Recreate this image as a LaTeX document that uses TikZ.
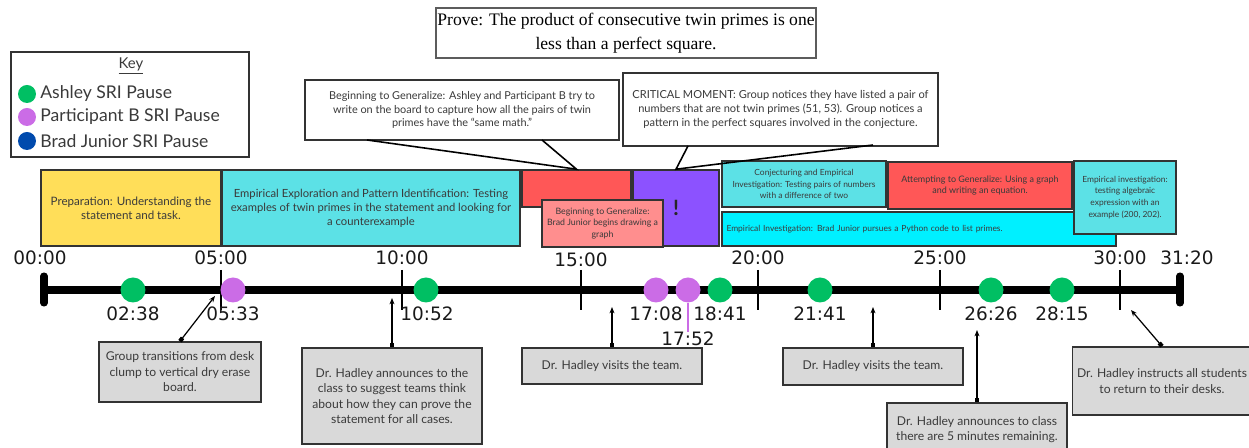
\documentclass[tikz,border=0pt]{standalone}
\usepackage{fontspec}
\setmainfont{Lato}
\newfontfamily\stampfont{DejaVu Sans}
\newfontfamily\provefont{Liberation Serif}
\usetikzlibrary{arrows.meta}
\definecolor{tlLine}{HTML}{333333}
\definecolor{tlText}{HTML}{3A3A3A}
\definecolor{pauseGreen}{HTML}{00BF63}
\definecolor{pausePurple}{HTML}{CB6CE6}
\definecolor{pauseBlue}{HTML}{004AAD}
\definecolor{phYellow}{HTML}{FFDE59}
\definecolor{phCyan}{HTML}{5CE1E6}
\definecolor{phRed}{HTML}{FF5757}
\definecolor{phPink}{HTML}{FF8E8E}
\definecolor{phViolet}{HTML}{8C52FF}
\definecolor{phAqua}{HTML}{00F0FF}
\definecolor{noteGray}{HTML}{D9D9D9}
\tikzset{
  timefig/.style={
    x=0.02cm, y=-0.02cm,
    every node/.append style={text=tlText},
  },
  phase/.style={
    draw=tlLine, line width=0.9pt, align=center, inner sep=1pt,
    font=\fontsize{6.4}{7.9}\selectfont,
  },
  smallphase/.style={phase, font=\fontsize{4.8}{6.7}\selectfont},
  callout/.style={draw=tlLine, line width=0.9pt, fill=white, align=center,
    inner sep=1pt, font=\fontsize{6.2}{7.6}\selectfont},
  calloutline/.style={draw=black, line width=0.9pt},
  note/.style={draw=tlLine, line width=0.9pt, fill=noteGray, align=center,
    inner sep=1pt, font=\fontsize{6.9}{8.8}\selectfont},
  notearrow/.style={draw=black, line width=0.7pt,
    {Square[length=2.4pt,width=2.4pt]}-{Stealth[length=3.6pt,width=2.8pt]}},
  pause/.style={circle, inner sep=0pt, minimum size=0.5cm},
  keydot/.style={circle, inner sep=0pt, minimum size=0.36cm},
  keytext/.style={anchor=west, inner sep=0pt, font=\fontsize{10}{12}\selectfont},
  stamp/.style={inner sep=0pt, text=black!90, font=\stampfont\fontsize{10.5}{12}\selectfont},
  majortick/.style={draw=black, line width=0.8pt},
}

\begin{document}
\begin{tikzpicture}[timefig]
  \useasboundingbox (0,0) rectangle (1249,448);
  % key and task
  \node[draw=tlLine, line width=1.2pt, minimum width=4.76cm, minimum height=2.1cm] (keybox) at (130,104.5) {};
  \node[inner sep=0pt, font=\fontsize{8.5}{10}\selectfont] (keytitle) at (131,66) {\underline{Key}};
  \node[keydot, fill=pauseGreen] (keyA) at (27,94) {};
  \node[keydot, fill=pausePurple] (keyB) at (27,117) {};
  \node[keydot, fill=pauseBlue] (keyC) at (27,141) {};
  \node[keytext] (keyAtext) at (40,94) {Ashley SRI Pause};
  \node[keytext] (keyBtext) at (40,117) {Participant B SRI Pause};
  \node[keytext] (keyCtext) at (40,141) {Brad Junior SRI Pause};
  \node[draw=tlLine!80, line width=1pt, minimum width=7.6cm, minimum height=1cm, align=center,
    inner sep=0pt, text=black, font=\provefont\fontsize{10}{13.5}\selectfont] (prove) at (626,33)
    {Prove: The product of consecutive twin primes is one\\less than a perfect square.};

  % phases above the timeline
  \node[phase, fill=phYellow, minimum width=3.6cm, minimum height=1.52cm,
    font=\fontsize{6.6}{8}\selectfont] (prep) at (131,208)
    {Preparation: Understanding the\\statement and task.};
  \node[phase, fill=phCyan, minimum width=5.96cm, minimum height=1.52cm] (explore) at (371,208)
    {Empirical Exploration and Pattern Identification: Testing\\examples of twin primes in the statement and looking for\\a counterexample};
  \node[phase, fill=phRed, minimum width=2.18cm, minimum height=0.74cm] (genred) at (576.5,188.5) {};
  \node[phase, fill=phViolet, minimum width=1.72cm, minimum height=1.52cm,
    font=\fontsize{12}{14}\selectfont\bfseries, text=black!85] (critical) at (676,208) {!};
  \node[phase, fill=phPink, minimum width=2.42cm, minimum height=0.94cm,
    font=\fontsize{5}{6.6}\selectfont] (bradgraph) at (602.5,223.5)
    {Beginning to Generalize:\\Brad Junior begins drawing a\\graph};
  \node[smallphase, fill=phCyan, minimum width=3.28cm, minimum height=0.92cm] (conject) at (804,184)
    {Conjecturing and Empirical\\Investigation: Testing pairs of numbers\\with a difference of two};
  \node[smallphase, fill=phRed, minimum width=3.68cm, minimum height=0.94cm,
    font=\fontsize{5.1}{6.7}\selectfont] (attempt) at (980,185.5)
    {Attempting to Generalize: Using a graph\\and writing an equation.};
  \node[smallphase, fill=phAqua, minimum width=7.88cm, minimum height=0.68cm,
    text width=7.7cm, align=left, inner xsep=0.09cm] (python) at (919,229)
    {Empirical Investigation: Brad Junior pursues a Python code to list primes.};
  \node[smallphase, fill=phCyan, minimum width=2.04cm, minimum height=1.46cm] (algebra) at (1125,197.5)
    {Empirical investigation:\\testing algebraic\\expression with an\\example (200, 202).};

  % callouts
  \node[callout, minimum width=6.28cm, minimum height=1.2cm] (gencall) at (462,110)
    {Beginning to Generalize: Ashley and Participant B try to\\write on the board to capture how all the pairs of twin\\primes have the ``same math.''};
  \node[callout, minimum width=6.3cm, minimum height=1.46cm, font=\fontsize{6.3}{8.2}\selectfont] (critcall) at (780.5,109.5)
    {CRITICAL MOMENT: Group notices they have listed a pair of\\numbers that are not twin primes (51, 53). Group notices a\\pattern in the perfect squares involved in the conjecture.};
  \coordinate (gencallA) at (367,140);
  \coordinate (gencallB) at (542,140);
  \coordinate (critcallA) at (688,146);
  \coordinate (critcallB) at (873,145);
  \draw[calloutline] (gencallA) -- (genred.north) -- (gencallB);
  \draw[calloutline] (critcallA) -- (critical.north) -- (critcallB);

  % timeline
  \coordinate (tStart) at (44,290);
  \coordinate (tEnd) at (1180,290);
  \draw[line width=5.1pt] (tStart) -- (tEnd);
  \draw[line width=4pt, line cap=round] (44,276) -- (44,303);
  \draw[line width=4pt, line cap=round] (1180,276) -- (1180,303);
  \draw[majortick] (221,270) -- (221,310);
  \draw[majortick] (402,270) -- (402,310);
  \draw[majortick] (581,270) -- (581,310);
  \draw[majortick] (758,270) -- (758,310);
  \draw[majortick] (940,270) -- (940,310);
  \draw[majortick] (1120,270) -- (1120,310);
  \node[stamp] (m00) at (40,258) {00:00};
  \node[stamp] (m05) at (221,258) {05:00};
  \node[stamp] (m10) at (402,258) {10:00};
  \node[stamp] (m15) at (581,260) {15:00};
  \node[stamp] (m20) at (758,258) {20:00};
  \node[stamp] (m25) at (940,258) {25:00};
  \node[stamp] (m30) at (1120,258) {30:00};
  \node[stamp] (m31) at (1187,258) {31:20};

  % SRI pauses
  \node[pause, fill=pauseGreen] (p0238) at (133,290) {};
  \node[pause, fill=pausePurple] (p0533) at (233,290) {};
  \node[pause, fill=pauseGreen] (p1052) at (426,290) {};
  \node[pause, fill=pausePurple] (p1708) at (656,290) {};
  \node[pause, fill=pausePurple] (p1752) at (688,290) {};
  \node[pause, fill=pauseGreen] (p1841) at (720,290) {};
  \node[pause, fill=pauseGreen] (p2141) at (820,290) {};
  \node[pause, fill=pauseGreen] (p2626) at (991,290) {};
  \node[pause, fill=pauseGreen] (p2815) at (1062,290) {};
  \node[stamp] (l0238) at (133,314) {02:38};
  \node[stamp] (l0533) at (233,314) {05:33};
  \node[stamp] (l1052) at (427,314) {10:52};
  \node[stamp] (l1708) at (656,314) {17:08};
  \node[stamp] (l1752) at (688,339) {17:52};
  \node[stamp] (l1841) at (720,314) {18:41};
  \node[stamp] (l2141) at (820,314) {21:41};
  \node[stamp] (l2626) at (991,314) {26:26};
  \node[stamp] (l2815) at (1062,314) {28:15};
  \draw[pausePurple, line width=0.8pt] (p1752.south) -- (l1752.north);

  % teacher events below the timeline
  \node[note, minimum width=3.24cm, minimum height=1.2cm] (deskmove) at (180,372)
    {Group transitions from desk\\clump to vertical dry erase\\board.};
  \node[note, minimum width=3.6cm, minimum height=1.92cm] (announce) at (392,396)
    {Dr. Hadley announces to the\\class to suggest teams think\\about how they can prove the\\statement for all cases.};
  \node[note, minimum width=3.6cm, minimum height=0.72cm] (visitA) at (612,366)
    {Dr. Hadley visits the team.};
  \node[note, minimum width=3.6cm, minimum height=0.74cm] (visitB) at (873,366.5)
    {Dr. Hadley visits the team.};
  \node[note, minimum width=3.6cm, minimum height=1.06cm] (fivemin) at (977,429.5)
    {Dr. Hadley announces to class\\there are 5 minutes remaining.};
  \node[note, minimum width=3.58cm, minimum height=1.36cm] (backdesk) at (1162,381)
    {Dr. Hadley instructs all students\\to return to their desks.};
  \coordinate (deskmoveTip) at (215,296);
  \coordinate (announceTip) at (392,298);
  \coordinate (visitATip) at (612,307);
  \coordinate (visitBTip) at (873,307);
  \coordinate (fiveminTip) at (977,330);
  \coordinate (backdeskTip) at (1131,310);
  \draw[notearrow] (deskmove.north) -- (deskmoveTip);
  \draw[notearrow] (announce.north) -- (announceTip);
  \draw[notearrow] (visitA.north) -- (visitATip);
  \draw[notearrow] (visitB.north) -- (visitBTip);
  \draw[notearrow] (fivemin.north) -- (fiveminTip);
  \draw[notearrow] (backdesk.north) -- (backdeskTip);
\end{tikzpicture}
\end{document}
